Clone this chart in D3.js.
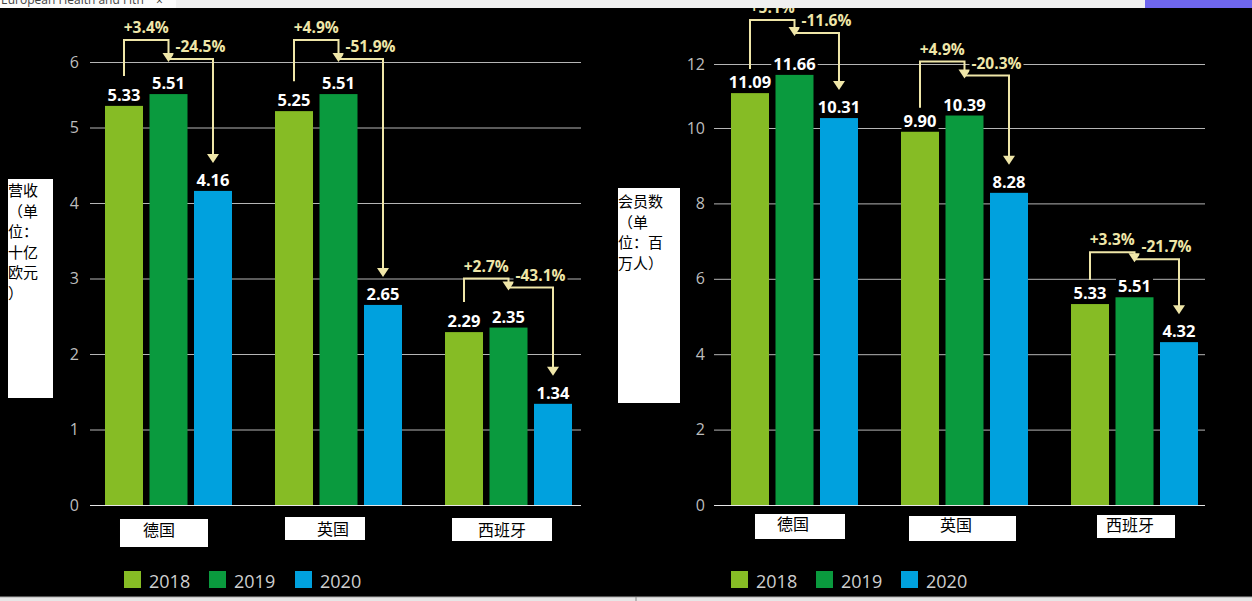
<!DOCTYPE html>
<html><head><meta charset="utf-8">
<script src="https://cdn.jsdelivr.net/npm/d3@7"></script>
<style>html,body{margin:0;padding:0;background:#000;overflow:hidden}</style>
</head><body>
<svg id="c" width="1252" height="601"></svg>
<script>
// ---------- data ----------
const countries = ["德国", "英国", "西班牙"];
const years = ["2018", "2019", "2020"];
const revenue2018 = [5.33, 5.25, 2.29];
const revenue2019 = [5.51, 5.51, 2.35];
const revenue2020 = [4.16, 2.65, 1.34];
const revenueGrowth = ["+3.4%", "+4.9%", "+2.7%"];
const revenueDecline = ["-24.5%", "-51.9%", "-43.1%"];
const members2018 = [11.09, 9.90, 5.33];
const members2019 = [11.66, 10.39, 5.51];
const members2020 = [10.31, 8.28, 4.32];
const membersGrowth = ["+5.1%", "+4.9%", "+3.3%"];
const membersDecline = ["-11.6%", "-20.3%", "-21.7%"];
const revenueTicks = [0, 1, 2, 3, 4, 5, 6];
const memberTicks = [0, 2, 4, 6, 8, 10, 12];
const revenueTitle = ["营收", "（单", "位：", "十亿", "欧元", "）"];
const membersTitle = ["会员数", "（单", "位：百", "万人）"];
const colors = ["#86bc25", "#0a9a3e", "#00a1de"];

// ---------- layout ----------
const svg = d3.select("#c");
const FONT = "'Open Sans', 'DejaVu Sans', sans-serif";
const CJK = "'Noto Sans CJK SC', sans-serif";
const ANNO = "#efe6a8";

const charts = [
  {
    s: [revenue2018, revenue2019, revenue2020], up: revenueGrowth, down: revenueDecline,
    ticks: revenueTicks, yDomain: [0, 5, 6], yRange: [505, 127.5, 62],
    groupRange: [105, 572], gridX: [90, 581], tickX: 79,
    lift1: [54, 54, 49], lift2: [35, 35, 40], startLift: 30,
    title: revenueTitle, titleBox: [8, 179, 45, 219], titleY: 196,
    catDx: [-9.5, -5.5, -6.5], catBox: [[-48.5, 88, 519, 28], [-53.5, 80, 517, 23], [-56.5, 100, 518, 23]], catY: 536,
    legendX: [124, 209, 295]
  },
  {
    s: [members2018, members2019, members2020], up: membersGrowth, down: membersDecline,
    ticks: memberTicks, yDomain: [0, 10, 12], yRange: [505, 128, 64],
    groupRange: [731, 1198], gridX: [714, 1205], tickX: 705,
    lift1: [55, 54, 45], lift2: [42, 40, 38], startLift: 24,
    title: membersTitle, titleBox: [618, 188, 62, 215], titleY: 207,
    catDx: [-1.5, -8.5, -4.5], catBox: [[-39.5, 90, 514, 25], [-55.5, 107, 516, 25], [-37.5, 78, 515, 23]], catY: 530,
    legendX: [731, 816, 901]
  }
];

function bgText(g, x, y, txt, opts) {
  const t = g.append("text").attr("x", x).attr("y", y).text(txt)
    .attr("font-family", FONT).attr("font-weight", "bold")
    .attr("font-size", opts.size).attr("fill", opts.fill)
    .attr("text-anchor", opts.anchor || "middle");
  const b = t.node().getBBox();
  g.insert("rect", () => t.node())
    .attr("x", b.x - 2).attr("y", b.y + 2).attr("width", b.width + 4).attr("height", b.height - 3)
    .attr("fill", "#000");
  return t;
}

charts.forEach(cfg => {
  const g = svg.append("g");
  const x0 = d3.scaleBand().domain(countries).range(cfg.groupRange).paddingInner(0.253);
  const x1 = d3.scaleBand().domain(years).range([0, x0.bandwidth()]).paddingInner(0.146);
  const y = d3.scaleLinear().domain(cfg.yDomain).range(cfg.yRange);

  // axis + gridlines
  const ax = g.append("g").attr("transform", `translate(${cfg.gridX[0]},0)`)
    .call(d3.axisLeft(y).tickValues(cfg.ticks).tickFormat(d3.format("d"))
      .tickSize(-(cfg.gridX[1] - cfg.gridX[0])).tickPadding(cfg.gridX[0] - cfg.tickX));
  ax.select(".domain").remove();
  ax.selectAll(".tick line").attr("stroke", d => d === 0 ? "#e6e6e6" : "#b5b5b5").attr("stroke-width", 1);
  ax.selectAll(".tick text").attr("fill", "#bdbdbd").attr("font-family", FONT).attr("font-size", 16);

  const rows = countries.map((c, i) => ({ c, i, vals: cfg.s.map(a => a[i]) }));

  // bars
  rows.forEach(r => {
    g.selectAll(null).data(r.vals).join("rect")
      .attr("x", (d, k) => x0(r.c) + x1(years[k]))
      .attr("y", d => y(d))
      .attr("width", x1.bandwidth())
      .attr("height", d => y(0) - y(d))
      .attr("fill", (d, k) => colors[k]);
  });

  // value labels
  rows.forEach(r => {
    r.vals.forEach((v, k) => {
      const cx = x0(r.c) + x1(years[k]) + x1.bandwidth() / 2;
      bgText(g, cx, y(v) - 5, d3.format(".2f")(v), { size: 16.5, fill: "#fff" });
    });
  });

  // change connectors
  rows.forEach(r => {
    const i = r.i;
    const cx = years.map(yr => x0(r.c) + x1(yr) + x1.bandwidth() / 2);
    const top19 = y(r.vals[1]);
    const L1 = top19 - cfg.lift1[i];
    const L2 = top19 - cfg.lift2[i];
    const start = y(r.vals[0]) - cfg.startLift;
    const tip1 = L2 + 3;
    const tip2 = y(r.vals[2]) - 28;
    g.append("path")
      .attr("d", `M${cx[0]},${start}V${L1}H${cx[1]}V${tip1 - 8}`)
      .attr("fill", "none").attr("stroke", ANNO).attr("stroke-width", 2);
    g.append("path")
      .attr("d", `M${cx[1]},${L2}H${cx[2]}V${tip2 - 8}`)
      .attr("fill", "none").attr("stroke", ANNO).attr("stroke-width", 2);
    [[cx[1], tip1], [cx[2], tip2]].forEach(([ax_, ty]) => {
      g.append("path").attr("d", `M${ax_ - 6},${ty - 9}L${ax_ + 6},${ty - 9}L${ax_},${ty}Z`).attr("fill", ANNO);
    });
    bgText(g, (cx[0] + cx[1]) / 2, L1 - 7, cfg.up[i], { size: 15.5, fill: ANNO });
    bgText(g, cx[1] + 7, L2 - 7, cfg.down[i], { size: 15.5, fill: ANNO, anchor: "start" });
  });

  // category label boxes
  rows.forEach(r => {
    const gc = x0(r.c) + x0.bandwidth() / 2;
    const b = cfg.catBox[r.i];
    g.append("rect").attr("x", gc + b[0]).attr("y", b[2]).attr("width", b[1]).attr("height", b[3]).attr("fill", "#fff");
    g.append("text").attr("x", gc + cfg.catDx[r.i]).attr("y", cfg.catY + (b[2] - (cfg.catBox[0][2]))/2)
      .attr("text-anchor", "middle").attr("font-family", CJK).attr("font-size", 16).attr("fill", "#000").text(r.c);
  });

  // y-axis title box
  const tb = cfg.titleBox;
  g.append("rect").attr("x", tb[0]).attr("y", tb[1]).attr("width", tb[2]).attr("height", tb[3]).attr("fill", "#fff");
  g.append("text").attr("font-family", CJK).attr("font-size", 15).attr("fill", "#000")
    .selectAll("tspan").data(cfg.title).join("tspan")
    .attr("x", tb[0]).attr("y", (d, k) => cfg.titleY + k * 20.5).text(d => d);

  // legend
  years.forEach((yr, k) => {
    g.append("rect").attr("x", cfg.legendX[k]).attr("y", 571).attr("width", 17).attr("height", 17).attr("fill", colors[k]);
    g.append("text").attr("x", cfg.legendX[k] + 25).attr("y", 588).attr("font-family", FONT)
      .attr("font-size", 18).attr("fill", "#cfcfcf").text(yr);
  });
});

// browser chrome strips
const topStrip = svg.append("g");
topStrip.append("rect").attr("x", 0).attr("y", 0).attr("width", 1252).attr("height", 8).attr("fill", "#f0f0f0");
topStrip.append("rect").attr("x", 0).attr("y", 0).attr("width", 176).attr("height", 8).attr("fill", "#fbfbfb");
topStrip.append("text").attr("x", 1).attr("y", 4).attr("font-family", FONT).attr("font-size", 12).attr("fill", "#444").text("European Health and Fitn");
topStrip.append("text").attr("x", 156).attr("y", 5).attr("font-family", FONT).attr("font-size", 12).attr("fill", "#333").text("×");
topStrip.append("rect").attr("x", 1145).attr("y", 0).attr("width", 107).attr("height", 8).attr("fill", "#6f66ee");
const botStrip = svg.append("g");
botStrip.append("rect").attr("x", 0).attr("y", 597).attr("width", 1252).attr("height", 4).attr("fill", "#e6e6e6");
botStrip.append("line").attr("x1", 0).attr("x2", 1252).attr("y1", 597).attr("y2", 597).attr("stroke", "#aaa");
botStrip.append("line").attr("x1", 636).attr("x2", 636).attr("y1", 597).attr("y2", 601).attr("stroke", "#888");
</script>
</body></html>
